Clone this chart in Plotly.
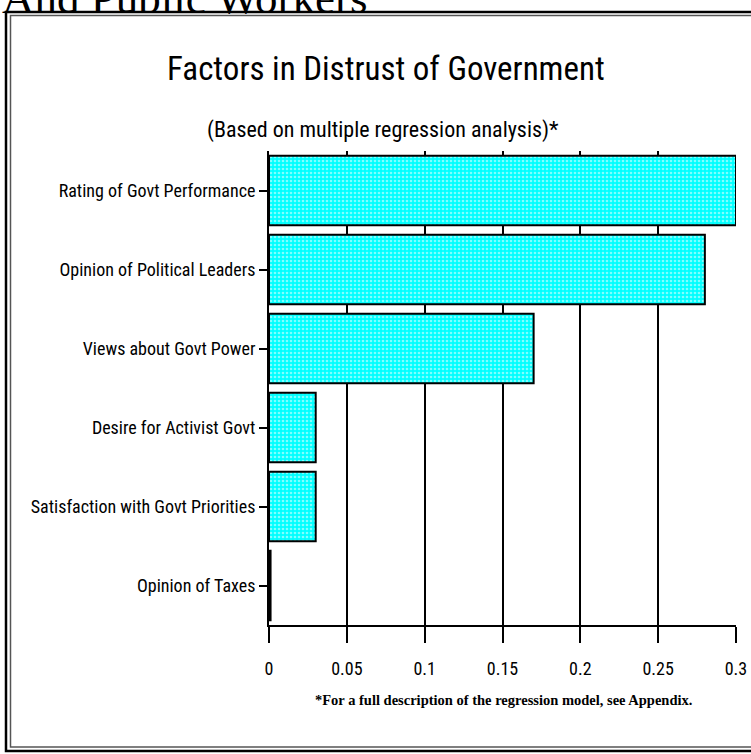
import plotly.graph_objects as go

categories = ["Rating of Govt Performance", "Opinion of Political Leaders",
              "Views about Govt Power", "Desire for Activist Govt",
              "Satisfaction with Govt Priorities", "Opinion of Taxes"]
values = [0.30, 0.28, 0.17, 0.03, 0.03, 0.001]
tick_vals = [0, 0.05, 0.1, 0.15, 0.2, 0.25, 0.3]
tick_text = ["0", "0.05", "0.1", "0.15", "0.2", "0.25", "0.3"]

W, H = 751, 754
L, R, T, B = 269, 15, 151, 129
pw, ph = W - L - R, H - T - B

def px(x):
    return (x - L) / pw

def py(y):
    return (H - B - y) / ph

NARROW = "Liberation Sans Narrow, Arial Narrow, Roboto Condensed, Roboto, sans-serif"
SERIF = "Liberation Serif, Times New Roman, serif"

fig = go.Figure(go.Bar(
    x=values, y=categories, orientation="h",
    marker=dict(color="#00FFFF", line=dict(color="black", width=2),
                pattern=dict(shape=".", fgcolor="white", bgcolor="#00FFFF",
                             size=4, solidity=0.35)),
    width=0.88,
))

fig.update_layout(
    width=W, height=H, autosize=False,
    margin=dict(l=L, r=R, t=T, b=B, pad=0),
    paper_bgcolor="white", plot_bgcolor="white",
    showlegend=False,
    font=dict(family=NARROW, color="black"),
    xaxis=dict(range=[0, 0.3], tickvals=tick_vals, ticktext=tick_text,
               automargin=False, ticklabelstandoff=10,
               showgrid=True, gridcolor="black", gridwidth=1.5,
               ticks="outside", ticklen=16, tickwidth=2, tickcolor="black",
               showline=True, linecolor="black", linewidth=2,
               zeroline=False, tickfont=dict(size=18, family=NARROW)),
    yaxis=dict(categoryorder="array", categoryarray=categories[::-1],
               automargin=False,
               ticks="outside", ticklen=8, tickwidth=2, tickcolor="black",
               showline=True, linecolor="black", linewidth=2,
               showgrid=False, tickfont=dict(size=18, family=NARROW)),
)

# outer double frame
fig.add_shape(type="rect", xref="paper", yref="paper",
              x0=px(6), x1=px(760), y0=py(751), y1=py(12),
              line=dict(color="black", width=2.5), layer="above")
fig.add_shape(type="rect", xref="paper", yref="paper",
              x0=px(10.5), x1=px(760), y0=py(747), y1=py(15.5),
              line=dict(color="#555555", width=1.5), layer="above")

fig.add_annotation(text="And Public Workers", xref="paper", yref="paper",
                   x=px(0), y=py(25), xanchor="left", yanchor="bottom",
                   showarrow=False,
                   font=dict(family=SERIF, size=45, color="black"))
fig.add_annotation(text="Factors in Distrust of Government", xref="paper", yref="paper",
                   x=px(386), y=py(68), xanchor="center", yanchor="middle",
                   showarrow=False, font=dict(family=NARROW, size=33))
fig.add_annotation(text="(Based on multiple regression analysis)*", xref="paper", yref="paper",
                   x=px(383), y=py(130), xanchor="center", yanchor="middle",
                   showarrow=False, font=dict(family=NARROW, size=22))
fig.add_annotation(text="<b>*For a full description of the regression model, see Appendix.</b>",
                   xref="paper", yref="paper",
                   x=px(503), y=py(700), xanchor="center", yanchor="middle",
                   showarrow=False, font=dict(family=SERIF, size=14.5))

fig.write_html("out.html",
               config={"responsive": False, "displayModeBar": False},
               post_script="document.body.style.margin='0px';document.body.style.overflow='hidden';")
